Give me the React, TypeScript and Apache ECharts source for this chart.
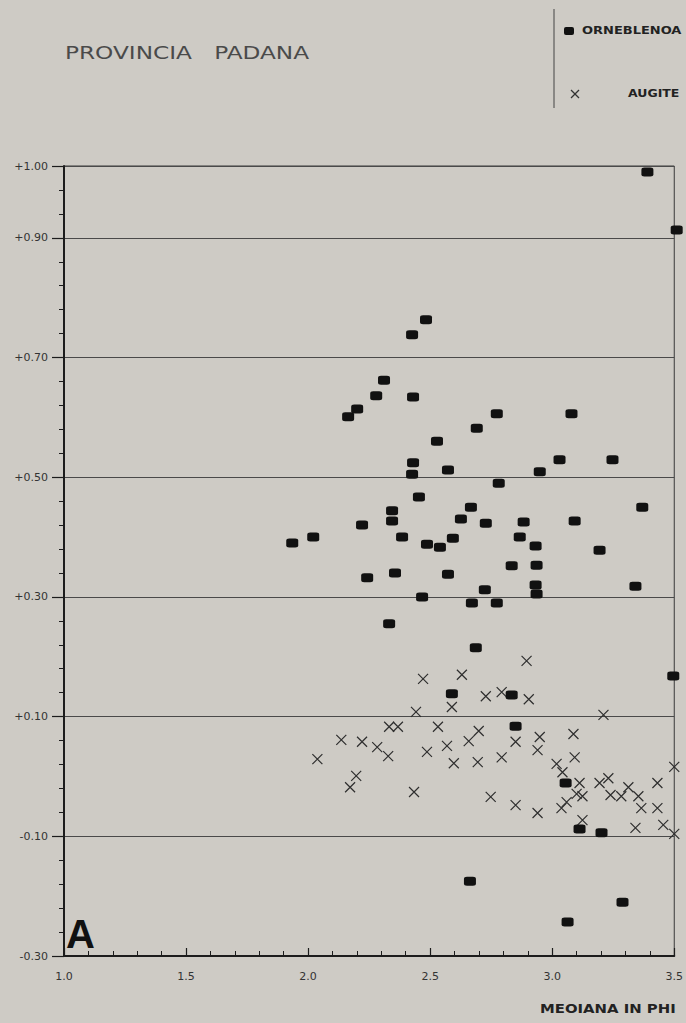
import React, { useEffect, useRef } from "react";
import * as echarts from "echarts";

const TITLE = "PROVINCIA   PADANA";
const X_NAME = "MEOIANA IN PHI";
const PANEL_LABEL = "A";
const seriesNames = ["ORNEBLENOA", "AUGITE"];

const xTickLabels = ["1.0", "1.5", "2.0", "2.5", "3.0", "3.5"];
const yTickLabels = ["-0.30", "-0.10", "+0.10", "+0.30", "+0.50", "+0.70", "+0.90", "+1.00"];

// ORNEBLENDA (filled squares): [median phi, value]
const orneblenda: [number, number][] = [
  [1.935, 0.39], [2.021, 0.4], [2.164, 0.601], [2.201, 0.614], [2.279, 0.636],
  [2.311, 0.662], [2.426, 0.738], [2.483, 0.763], [2.43, 0.634], [2.528, 0.56],
  [2.43, 0.524], [2.426, 0.505], [2.573, 0.512], [2.691, 0.582], [2.773, 0.606],
  [3.079, 0.606], [2.781, 0.49], [3.03, 0.529], [3.247, 0.529], [2.949, 0.509],
  [2.454, 0.467], [2.221, 0.42], [2.344, 0.444], [2.344, 0.427], [2.385, 0.4],
  [2.242, 0.332], [2.356, 0.34], [2.332, 0.255], [2.467, 0.3], [2.487, 0.388],
  [2.54, 0.383], [2.626, 0.43], [2.667, 0.45], [2.593, 0.398], [2.573, 0.338],
  [2.728, 0.423], [2.724, 0.312], [2.671, 0.29], [2.773, 0.29], [2.687, 0.215],
  [2.834, 0.352], [2.867, 0.4], [2.883, 0.425], [2.932, 0.385], [2.936, 0.353],
  [2.932, 0.32], [2.936, 0.305], [3.092, 0.427], [3.194, 0.378], [3.341, 0.318],
  [3.369, 0.45], [3.39, 1.01], [3.51, 0.913], [3.496, 0.168], [2.589, 0.138],
  [2.834, 0.136], [2.85, 0.084], [3.055, -0.011], [3.112, -0.088], [3.202, -0.094],
  [2.663, -0.175], [3.063, -0.243], [3.288, -0.21],
];

// AUGITE (crosses): [median phi, value]
const augite: [number, number][] = [
  [2.038, 0.029], [2.136, 0.061], [2.172, -0.018], [2.197, 0.001], [2.221, 0.058],
  [2.283, 0.049], [2.328, 0.034], [2.332, 0.083], [2.368, 0.083], [2.434, -0.026],
  [2.442, 0.108], [2.471, 0.163], [2.487, 0.041], [2.532, 0.083], [2.569, 0.051],
  [2.589, 0.116], [2.597, 0.022], [2.63, 0.17], [2.658, 0.059], [2.695, 0.024],
  [2.699, 0.076], [2.728, 0.134], [2.748, -0.034], [2.793, 0.141], [2.793, 0.032],
  [2.85, 0.058], [2.85, -0.048], [2.895, 0.193], [2.904, 0.129], [2.94, 0.044],
  [2.949, 0.066], [2.94, -0.061], [3.018, 0.021], [3.038, -0.053], [3.042, 0.007],
  [3.059, -0.043], [3.087, 0.071], [3.092, 0.032], [3.1, -0.029], [3.112, -0.011],
  [3.124, -0.033], [3.124, -0.073], [3.194, -0.011], [3.21, 0.103], [3.23, -0.003],
  [3.239, -0.031], [3.283, -0.033], [3.312, -0.018], [3.341, -0.086], [3.353, -0.033],
  [3.365, -0.053], [3.431, -0.011], [3.431, -0.053], [3.455, -0.081], [3.5, 0.016],
  [3.5, -0.096],
];

const BG = "#cecbc5";
const INK = "#1c1c1c";

export default function App() {
  const ref = useRef<HTMLDivElement>(null);

  useEffect(() => {
    if (!ref.current) return;
    const chart = echarts.init(ref.current, null, { renderer: "svg" });
    const option: any = {
      animation: false,
      backgroundColor: BG,
      grid: {
        left: 64,
        top: 166,
        right: 10,
        bottom: 67,
        show: true,
        borderColor: "#3a3a3a",
        borderWidth: 1,
        backgroundColor: "transparent",
      },
      xAxis: {
        type: "value",
        min: 1.0,
        max: 3.5,
        interval: 0.5,
        axisLine: { show: true, onZero: false, lineStyle: { color: INK, width: 2 } },
        axisTick: { show: true, inside: true, length: 8, lineStyle: { color: INK, width: 1.2 } },
        minorTick: { show: true, splitNumber: 5, length: 5, lineStyle: { color: INK, width: 1 } },
        axisLabel: {
          formatter: (_v: number, i: number) => xTickLabels[i] ?? "",
          color: "#333",
          fontSize: 11,
          fontFamily: "DejaVu Sans",
          margin: 15,
          showMinLabel: true,
          showMaxLabel: true,
        },
        splitLine: { show: false },
      },
      yAxis: {
        type: "value",
        min: -0.3,
        max: 1.02,
        interval: 0.2,
        axisLine: { show: true, onZero: false, lineStyle: { color: INK, width: 2 } },
        axisTick: { show: true, inside: false, length: 12, lineStyle: { color: INK, width: 1.2 } },
        minorTick: { show: true, splitNumber: 5, length: 5, lineStyle: { color: INK, width: 1 } },
        axisLabel: {
          formatter: (_v: number, i: number) => yTickLabels[i] ?? "",
          color: "#333",
          fontSize: 11,
          fontFamily: "DejaVu Sans",
          margin: 16,
          showMinLabel: true,
          showMaxLabel: true,
        },
        splitLine: { show: true, lineStyle: { color: "#4a4a4a", width: 1 } },
      },
      series: [
        {
          name: seriesNames[0],
          type: "scatter",
          data: orneblenda,
          symbol: "roundRect",
          symbolSize: [12, 9],
          clip: false,
          itemStyle: { color: "#111", opacity: 1 },
          z: 4,
        },
        {
          name: seriesNames[1],
          type: "scatter",
          data: augite,
          symbol: "path://M0,0L10,10M10,0L0,10",
          symbolSize: 10,
          clip: false,
          itemStyle: { color: "transparent", borderColor: "#2e2e2e", borderWidth: 1.2, opacity: 1 },
          z: 3,
        },
      ],
      graphic: [
        {
          type: "text",
          x: 65,
          y: 53,
          scaleX: 1.29,
          style: {
            text: TITLE,
            fontSize: 18,
            fontFamily: "DejaVu Sans",
            fill: "#4a4a4a",
            align: "left",
            verticalAlign: "middle",
          },
        },
        {
          type: "line",
          shape: { x1: 554, y1: 9, x2: 554, y2: 108 },
          style: { stroke: "#444", lineWidth: 1 },
        },
        {
          type: "rect",
          shape: { x: 564, y: 27, width: 10, height: 8, r: 2 },
          style: { fill: "#111" },
        },
        {
          type: "text",
          x: 582,
          y: 31,
          scaleX: 1.3,
          style: {
            text: seriesNames[0],
            fontSize: 10,
            fontWeight: "bold",
            fontFamily: "DejaVu Sans",
            fill: "#222",
            align: "left",
            verticalAlign: "middle",
          },
        },
        {
          type: "line",
          shape: { x1: 571, y1: 90, x2: 579, y2: 98 },
          style: { stroke: "#333", lineWidth: 1.2 },
        },
        {
          type: "line",
          shape: { x1: 579, y1: 90, x2: 571, y2: 98 },
          style: { stroke: "#333", lineWidth: 1.2 },
        },
        {
          type: "text",
          x: 628,
          y: 94,
          scaleX: 1.25,
          style: {
            text: seriesNames[1],
            fontSize: 10,
            fontWeight: "bold",
            fontFamily: "DejaVu Sans",
            fill: "#222",
            align: "left",
            verticalAlign: "middle",
          },
        },
        {
          type: "text",
          x: 540,
          y: 1009,
          scaleX: 1.24,
          style: {
            text: X_NAME,
            fontSize: 12,
            fontWeight: "bold",
            fontFamily: "DejaVu Sans",
            fill: "#222",
            align: "left",
            verticalAlign: "middle",
          },
        },
        {
          type: "text",
          x: 66,
          y: 934,
          style: {
            text: PANEL_LABEL,
            fontSize: 40,
            fontWeight: "bold",
            fontFamily: "Liberation Sans",
            fill: "#111",
            align: "left",
            verticalAlign: "middle",
          },
        },
      ],
    };
    chart.setOption(option);
    return () => chart.dispose();
  }, []);

  return (
    <div
      ref={ref}
      style={{ position: "absolute", left: 0, top: 0, width: 686, height: 1023, background: BG }}
    />
  );
}
